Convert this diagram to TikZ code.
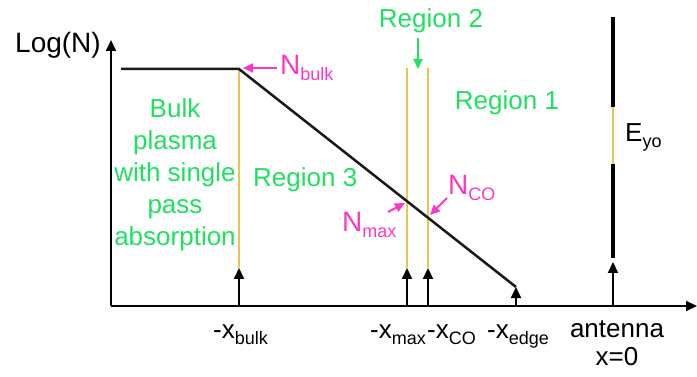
\documentclass[tikz,border=0pt]{standalone}
\usepackage{fontspec}
\setmainfont{Liberation Sans}
\usetikzlibrary{arrows.meta}
\definecolor{regiongreen}{RGB}{30,225,95}
\definecolor{labelpink}{RGB}{250,55,200}
\definecolor{cutyellow}{RGB}{232,196,80}
\newcommand{\lowsub}[1]{\raisebox{-6pt}{\fontsize{18}{18}\selectfont #1}}
\begin{document}
\begin{tikzpicture}[x=1pt,y=-1pt,
  every node/.style={inner sep=0pt,font=\fontsize{26}{32}\selectfont},
  greentext/.style={text=regiongreen},
  pinktext/.style={text=labelpink,font=\fontsize{28}{32}\selectfont},
  yline/.style={cutyellow,line width=1.5pt},
  uparrow/.style={line width=2pt,-{Triangle[length=11pt,width=10pt]}},
  pinkarrow/.style={labelpink,line width=2pt,-{Triangle[length=10pt,width=9pt]}}]
  \useasboundingbox (0,0) rectangle (697,377);
  % axes
  \coordinate (origin) at (111,306);
  \coordinate (ytip) at (111,40);
  \coordinate (xtip) at (697,306);
  \draw[uparrow] (origin) -- (ytip);
  \draw[uparrow] (origin) -- (xtip);
  \node[anchor=base west,font=\fontsize{28}{32}\selectfont] (logn) at (15,53) {Log(N)};
  % density profile
  \coordinate (flat) at (121,69);
  \coordinate (knee) at (239,69);
  \coordinate (edge) at (516,287);
  \coordinate (cutmax) at (407,201);
  \coordinate (cutco) at (428,217);
  % yellow cut lines
  \draw[yline] (239,268) -- (knee);
  \draw[yline] (407,268) -- (407,68);
  \draw[yline] (428,268) -- (428,68);
  \draw[line width=2.5pt,black!90] (flat) -- (knee) -- (edge);
  % arrows from the x axis
  \foreach \name/\xx/\tip in {bulk/239/268,max/407/268,co/428/268,edge/516/287,ant/613/262} {
    \coordinate (ax\name) at (\xx,306);
    \coordinate (tip\name) at (\xx,\tip);
    \draw[uparrow] (ax\name) -- (tip\name);
  }
  % antenna
  \coordinate (antTop) at (613,17);
  \coordinate (gapTop) at (613,107);
  \coordinate (gapBot) at (613,164);
  \coordinate (antBot) at (613,258);
  \draw[line width=4pt] (antTop) -- (gapTop);
  \draw[yline] (gapTop) -- (gapBot);
  \draw[line width=4pt] (gapBot) -- (antBot);
  \node[anchor=base west] (ey) at (625,142) {E\lowsub{yo}};
  % region labels
  \node[greentext,align=center,anchor=north] (bulktext) at (175,98) {Bulk\\plasma\\with single\\pass\\absorption};
  \node[greentext,anchor=base west] (reg3) at (253,187) {Region 3};
  \node[greentext,anchor=base] (reg2) at (431,28) {Region 2};
  \node[greentext,anchor=base] (reg1) at (507,110) {Region 1};
  \coordinate (reg2tip) at (418,69);
  \draw[regiongreen,line width=2pt,-{Triangle[length=10pt,width=9pt]}] (418,38) -- (reg2tip);
  % density labels
  \node[pinktext,anchor=base west] (nbulk) at (280,75) {N\lowsub{bulk}};
  \node[pinktext,anchor=base west] (nmax) at (342,232) {N\lowsub{max}};
  \node[pinktext,anchor=base west] (nco) at (448,195) {N\lowsub{CO}};
  \coordinate (nbulkfrom) at (277,68);
  \coordinate (nbulkto) at (243,68);
  \coordinate (nmaxfrom) at (388,212);
  \coordinate (ncofrom) at (447,198);
  \draw[pinkarrow] (nbulkfrom) -- (nbulkto);
  \draw[pinkarrow] (nmaxfrom) -- (405,203);
  \draw[pinkarrow] (ncofrom) -- (430,215);
  % x axis labels
  \node[anchor=base west] (lxbulk) at (213,338) {-x\lowsub{bulk}};
  \node[anchor=base west] (lxmax) at (370,338) {-x\lowsub{max}};
  \node[anchor=base west] (lxco) at (427,338) {-x\lowsub{CO}};
  \node[anchor=base west] (lxedge) at (487,338) {-x\lowsub{edge}};
  \node[anchor=base] (lant) at (617,337) {antenna};
  \node[anchor=base] (lzero) at (617,365) {x=0};
\end{tikzpicture}
\end{document}
